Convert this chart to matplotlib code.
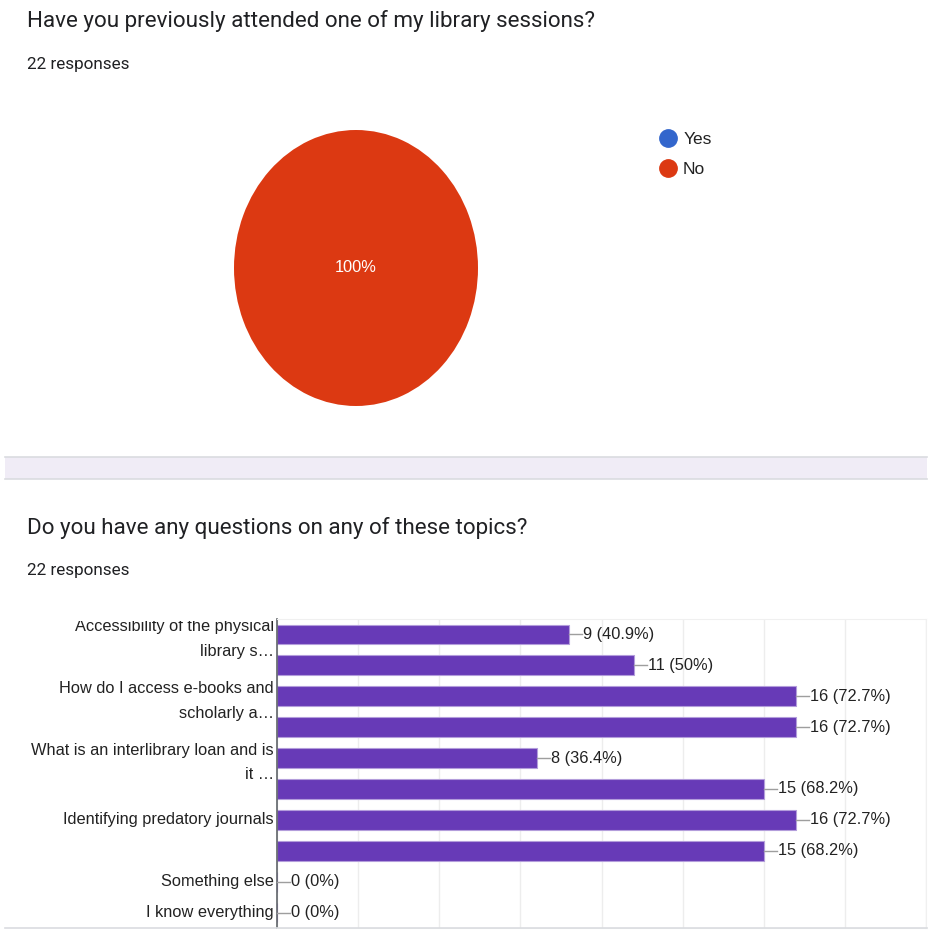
import numpy as np
import matplotlib.pyplot as plt
from matplotlib.lines import Line2D
from matplotlib.patches import Rectangle
from matplotlib.transforms import Bbox, TransformedBbox

# --- data ---
total_responses = 22

pie_labels = ['Yes', 'No']
pie_counts = [0, 22]

topic_labels = [
    'Accessibility of the physical\nlibrary s\u2026',
    '',
    'How do I access e-books and\nscholarly a\u2026',
    '',
    'What is an interlibrary loan and is\nit \u2026',
    '',
    'Identifying predatory journals',
    '',
    'Something else',
    'I know everything',
]
topic_counts = [9, 11, 16, 16, 8, 15, 16, 15, 0, 0]

title_1 = 'Have you previously attended one of my library sessions?'
title_2 = 'Do you have any questions on any of these topics?'

# --- style ---
W, H = 930, 933
BLUE = '#3366cc'
RED = '#dc3912'
PURPLE = '#673ab7'
TEXT = '#202124'
LABEL = '#222222'
BORDER = '#dadce0'

plt.rcParams['font.family'] = ['Liberation Sans', 'DejaVu Sans']


def fx(x):
    return x / W


def fy(y):
    return 1 - y / H


def pct_text(n):
    p = round(n / total_responses * 100, 1)
    s = f'{p:.1f}'
    if s.endswith('.0'):
        s = s[:-2]
    return f'{n} ({s}%)'


fig = plt.figure(figsize=(W / 100, H / 100), dpi=100)
fig.patch.set_facecolor('white')

# titles
head = dict(color=TEXT, va='center', ha='left', family=['Roboto', 'DejaVu Sans'])
fig.text(fx(27), fy(21), title_1, fontsize=16.1, **head)
fig.text(fx(27), fy(64), f'{total_responses} responses', fontsize=12.3, **head)
fig.text(fx(27), fy(528), title_2, fontsize=16.1, **head)
fig.text(fx(27), fy(570), f'{total_responses} responses', fontsize=12.3, **head)

# divider band between the two cards
fig.add_artist(Rectangle((fx(5), fy(479)), fx(922), (479 - 457) / H, transform=fig.transFigure,
                         facecolor='#f0ecf6', edgecolor='none'))
for yy in [457, 479, 928]:
    fig.add_artist(Line2D([fx(5), fx(927)], [fy(yy), fy(yy)], transform=fig.transFigure,
                          color=BORDER, lw=1.2))

# --- pie ---
ax_pie = fig.add_axes([fx(234), fy(406), (478 - 234) / W, (406 - 130) / H])
ax_pie.pie(pie_counts, colors=[BLUE, RED], startangle=90, counterclock=False,
           autopct=lambda p: f'{p:.0f}%' if p > 0 else '', pctdistance=0,
           textprops={'color': 'white', 'fontsize': 11.8})
ax_pie.set_aspect('auto')
ax_pie.set_xlim(-1, 1)
ax_pie.set_ylim(-1, 1)

handles = [Line2D([], [], marker='o', linestyle='', markersize=12.5, markerfacecolor=c,
                  markeredgecolor=c) for c in [BLUE, RED]]
fig.legend(handles, pie_labels, loc='upper left', bbox_to_anchor=(fx(651), fy(123)),
           bbox_transform=fig.transFigure, frameon=False, fontsize=12.5, handlelength=1.0,
           handletextpad=0.35, labelspacing=0.85, borderpad=0, labelcolor=LABEL)

# --- bars ---
ax = fig.add_axes([fx(277), fy(928), (926 - 277) / W, (928 - 619) / H])
rows = np.arange(len(topic_counts))
ax.barh(rows, topic_counts, height=0.64, color=PURPLE, edgecolor='#b39ddb', linewidth=0.8,
        zorder=2)
ax.set_xlim(0, 20)
ax.set_ylim(len(rows) - 0.5, -0.5)
ax.set_xticks(np.arange(0, 20.1, 2.5))
ax.set_yticks([])
ax.tick_params(axis='x', length=0, labelbottom=False)
ax.grid(axis='x', color='#ededed', lw=1)
ax.set_axisbelow(True)
for side in ['top', 'right', 'bottom']:
    ax.spines[side].set_color('#f0f0f0')
ax.spines['left'].set_color('#5f6368')
ax.spines['left'].set_linewidth(1.2)

# category labels (first one is cut off at the top, as in the screenshot)
clip = TransformedBbox(Bbox([[0, 0], [1, fy(621)]]), fig.transFigure)
for r, lab in zip(rows, topic_labels):
    if lab:
        dy = 0.15 if '\n' in lab else 0
        t = ax.text(-0.005, r + dy, lab, transform=ax.get_yaxis_transform(), ha='right',
                    va='center', fontsize=11.8, color=LABEL, linespacing=1.8)
        t.set_clip_box(clip)
        t.set_clip_on(True)

lead = 0.4
for r, n in zip(rows, topic_counts):
    ax.plot([n, n + lead], [r, r], color='#9e9e9e', lw=1, zorder=3, clip_on=False)
    ax.text(n + lead + 0.03, r, pct_text(n), ha='left', va='center', fontsize=11.8,
            color=LABEL, clip_on=False)

fig.savefig('out.png', dpi=100)
